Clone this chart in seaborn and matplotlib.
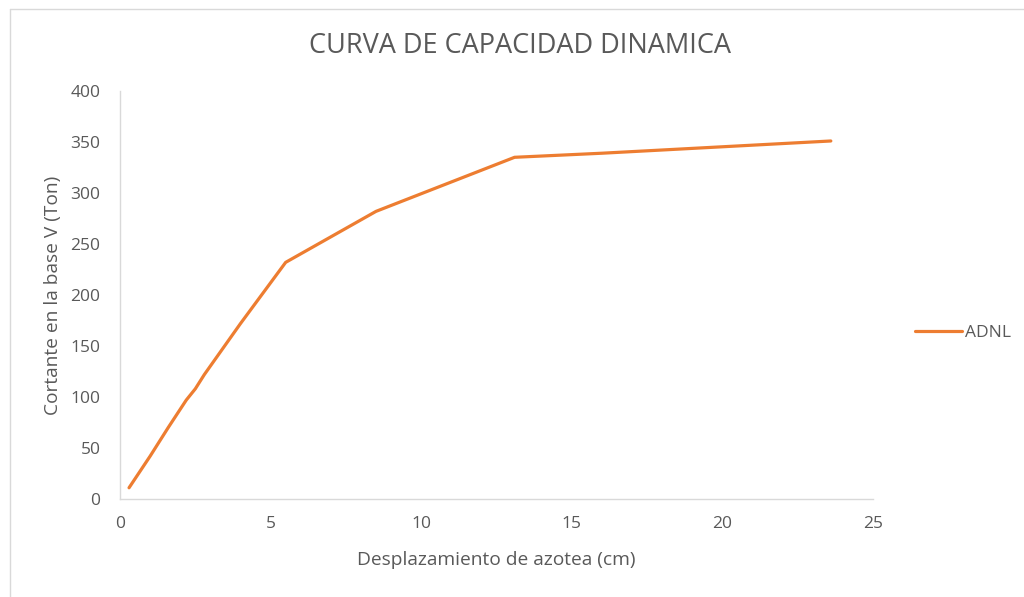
import matplotlib
matplotlib.use("Agg")
import matplotlib.pyplot as plt
from matplotlib.lines import Line2D
import seaborn as sns
import pandas as pd

# Capacity curve: roof displacement (cm) vs base shear (Ton)
desplazamiento = [0.3, 1.0, 1.6, 2.2, 2.5, 2.8, 4.0, 5.5, 8.5, 13.1, 16.0, 23.6]
cortante = [11, 42, 70, 97, 108, 122, 172, 232, 282, 335, 339, 351]
serie = "ADNL"

x_ticks = [0, 5, 10, 15, 20, 25]
y_ticks = [0, 50, 100, 150, 200, 250, 300, 350, 400]

sns.set_theme(style="white")
plt.rcParams["font.family"] = ["Open Sans", "DejaVu Sans"]

TEXT = "#595959"
AXIS = "#D9D9D9"
ORANGE = "#ED7D31"

df = pd.DataFrame({"x": desplazamiento, "y": cortante, "serie": serie})

fig = plt.figure(figsize=(10.24, 5.97), dpi=100)
ax = fig.add_axes([120 / 1024, 1 - 499 / 597, (873 - 120) / 1024, (499 - 91) / 597])

sns.lineplot(data=df, x="x", y="y", sort=False, color=ORANGE, linewidth=2.3,
             ax=ax, legend=False)

ax.set_xlim(0, 25)
ax.set_ylim(0, 400)
ax.set_xticks(x_ticks)
ax.set_yticks(y_ticks)
ax.tick_params(axis="both", length=0, labelsize=12.5, colors=TEXT)
ax.tick_params(axis="x", pad=12)
ax.tick_params(axis="y", pad=14)

for side in ("top", "right"):
    ax.spines[side].set_visible(False)
for side in ("left", "bottom"):
    ax.spines[side].set_color(AXIS)
    ax.spines[side].set_linewidth(1.0)

ax.set_xlabel("Desplazamiento de azotea (cm)", fontsize=13.8, color=TEXT, labelpad=14)
ax.set_ylabel("Cortante en la base V (Ton)", fontsize=13.8, color=TEXT, labelpad=6)

fig.text(520 / 1024, 1 - 46 / 597, "CURVA DE CAPACIDAD DINAMICA",
         ha="center", va="center", fontsize=19.5, color=TEXT)

handle = Line2D([], [], color=ORANGE, linewidth=2.3)
fig.legend([handle], [serie], loc="center left",
           bbox_to_anchor=(908 / 1024, 1 - 333 / 597), frameon=False,
           fontsize=12.5, labelcolor=TEXT, handlelength=2.7, handletextpad=0.2,
           borderaxespad=0)

# Chart frame (left and top edges)
fig.add_artist(Line2D([10 / 1024, 10 / 1024], [0, 1 - 9 / 597],
                      transform=fig.transFigure, color=AXIS, linewidth=1.0))
fig.add_artist(Line2D([10 / 1024, 1], [1 - 9 / 597, 1 - 9 / 597],
                      transform=fig.transFigure, color=AXIS, linewidth=1.0))

fig.savefig("out.png", dpi=100, facecolor="white")
